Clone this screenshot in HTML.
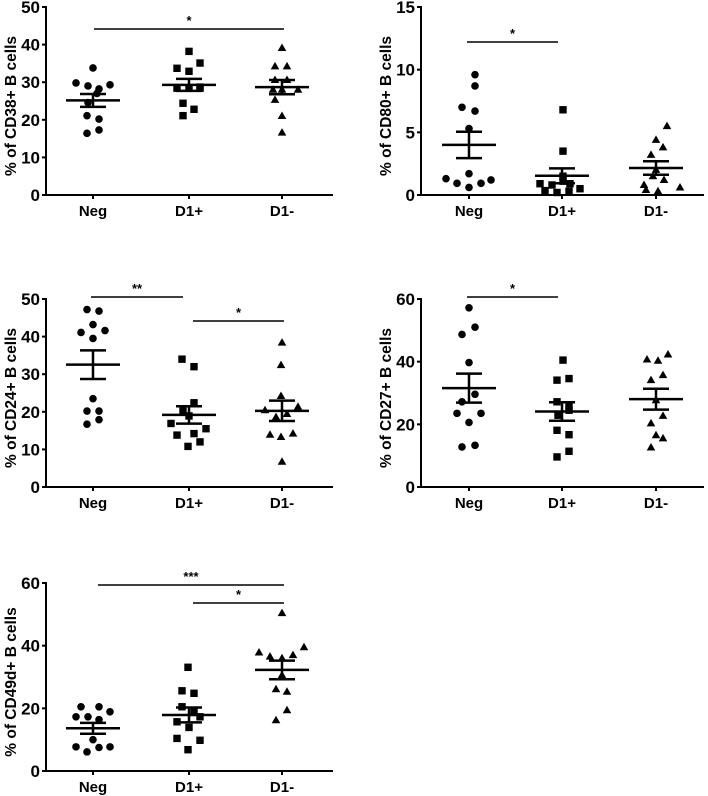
<!DOCTYPE html>
<html><head><meta charset="utf-8">
<style>
html,body{margin:0;padding:0;background:#fff;}
svg{display:block;font-family:"Liberation Sans",Arial,sans-serif;font-weight:bold;}
</style></head>
<body>
<svg id="chart" width="708" height="796" viewBox="0 0 708 796"></svg>
<script>
const categories = ["Neg","D1+","D1-"];
// CD38
const cd38Neg = [33.8,29.8,29,28.2,29.3,27,24.6,21.1,20.2,16.4,17.3];
const cd38D1p = [38.2,33.7,32.9,35.1,28.4,28.4,28.4,24.4,22.8,21.1,28.7];
const cd38D1m = [39.1,34.2,34.2,30.6,30.6,28,28,28,25.3,21,16.6];
// CD80
const cd80Neg = [8.7,9.6,7,6.7,5.3,1.7,1.3,1.2,0.93,0.93,0.6];
const cd80D1p = [6.8,3.5,1.5,0.9,0.8,0.9,0.5,0.35,0.2,0.3,1.1];
const cd80D1m = [5.5,4.4,3.8,3.2,2,0.8,1.2,1.5,0.6,0.4,0.3];
// CD24
const cd24Neg = [47.2,46.8,43.2,41.1,41.6,39.5,23.5,20.2,20.2,16.7,17.9];
const cd24D1p = [34,32,22.4,20.4,16.9,13.8,14.2,15.5,10.8,12,18.9];
const cd24D1m = [38.4,32.4,24.2,20.4,18.6,19.4,21.3,13.9,13.3,14.2,6.7];
// CD27
const cd27Neg = [57.2,48.7,51,39.7,29.6,27.2,23.5,23.5,20.6,12.8,13.3];
const cd27D1p = [40.5,34.1,34.6,27.2,25.6,22.9,24.5,18.1,16.7,11.4,9.6];
const cd27D1m = [40.7,40.3,42.3,34.1,35.7,27.7,22.7,20.3,16.5,15.5,12.6];
// CD49d
const cd49Neg = [20.5,20.5,18.9,17.3,17.3,16.4,10,7.7,7.5,7.7,6.1];
const cd49D1p = [33.1,25.6,24.8,20.5,17.3,15.7,13.9,10.4,9.8,6.8,18.9];
const cd49D1m = [50.4,37.8,36.5,36,37,39.5,30.6,26.1,25.3,19.4,16.2];

// horizontal jitter (px) for point placement
const jitA = [0,-17,-5,6,17,4,-5,-6,6,-6,6];
const jitB = [0,-12,0,11,-12,0,11,-6,5,-6,11];
const jitC = [0,-7,5,-7,5,-9,0,16,-7,0,0];

const NS="http://www.w3.org/2000/svg";
const svg=document.getElementById('chart');
function mk(tag,attrs,parent){const e=document.createElementNS(NS,tag);for(const k in attrs)e.setAttribute(k,attrs[k]);(parent||svg).appendChild(e);return e;}

const panels=[
 {name:"cd38",label:"% of CD38+ B cells",ax:46,x1:333,top:7,bot:195,max:50,step:10,cx:[93,189,282],data:[cd38Neg,cd38D1p,cd38D1m],jit:[jitA,jitB,jitC],sig:[{a:0,b:2,y:29,t:"*"}]},
 {name:"cd80",label:"% of CD80+ B cells",ax:421,x1:704,top:7,bot:195,max:15,step:5,cx:[469,562,656],data:[cd80Neg,cd80D1p,cd80D1m],jit:[[6,6,-7,6,0,0,-23,22,-12,12,0],[1,1,1,-22,-10,8,18,-17,-5,7,1],[11,0,7,-5,0,-12,8,-3,24,-10,2]],sig:[{a:0,b:1,y:42,t:"*",x0:467,x1:558}]},
 {name:"cd24",label:"% of CD24+ B cells",ax:46,x1:333,top:299,bot:487,max:50,step:10,cx:[93,189,282],data:[cd24Neg,cd24D1p,cd24D1m],jit:[[-6,6,0,-12,12,0,0,-6,6,-6,6],[-7,5,5,-6,-18,-12,5,17,-1,11,0],[0,-1,-1,-17,-6,5,16,-12,-1,11,0]],sig:[{y:297,t:"**",x0:91,x1:183},{y:321,t:"*",x0:193,x1:284}]},
 {name:"cd27",label:"% of CD27+ B cells",ax:421,x1:704,top:299,bot:487,max:60,step:20,cx:[469,562,656],data:[cd27Neg,cd27D1p,cd27D1m],jit:[[0,-7,6,0,6,-7,-12,12,0,-7,6],[1,-5,7,-5,7,-4,7,-5,7,7,-5],[-9,2,12,-5,7,0,7,-5,0,7,-5]],sig:[{y:297,t:"*",x0:467,x1:558}]},
 {name:"cd49d",label:"% of CD49d+ B cells",ax:46,x1:333,top:583,bot:771,max:60,step:20,cx:[93,189,282],data:[cd49Neg,cd49D1p,cd49D1m],jit:[[-12,6,17,-17,-5,6,0,-17,6,17,-6],[-1,-7,5,-7,11,-12,0,-12,11,-1,5],[0,-23,-12,0,11,22,0,-6,5,5,-6]],sig:[{y:585,t:"***",x0:98,x1:284},{y:603,t:"*",x0:193,x1:284}]}
];

panels.forEach(p=>{
 const g=mk('g',{});
 
 
 const yS=v=>p.bot-(v/p.max)*(p.bot-p.top);
 const ya=mk('line',{x1:p.ax,y1:p.top-1,x2:p.ax,y2:p.bot+1,stroke:'#000','stroke-width':2},g);
 
 const xa=mk('line',{x1:p.ax-1,y1:p.bot,x2:p.x1,y2:p.bot,stroke:'#000','stroke-width':2},g);
 
 for(let v=0;v<=p.max+1e-9;v+=p.step){
  const y=yS(v);
  mk('line',{x1:p.ax-4,y1:y,x2:p.ax,y2:y,stroke:'#000','stroke-width':2},g);
  const t=mk('text',{x:p.ax-6,y:y+6,'text-anchor':'end','font-size':17},g);t.textContent=v;
  
 }
 const yl=mk('text',{x:0,y:0,'text-anchor':'middle','font-size':15.5,transform:`translate(${p.ax-30},${(p.top+p.bot)/2+5}) rotate(-90)`},g);
 yl.textContent=p.label;
 
 categories.forEach((c,i)=>{
  const cx=p.cx[i];
  mk('line',{x1:cx,y1:p.bot,x2:cx,y2:p.bot+4,stroke:'#000','stroke-width':2},g);
  const t=mk('text',{x:cx,y:p.bot+21,'text-anchor':'middle','font-size':15},g);t.textContent=c;
  
  const vals=p.data[i];
  vals.forEach((v,k)=>{
   const x=cx+(p.jit[i][k]||0), y=yS(v);
   let m;
   if(i===0) m=mk('circle',{cx:x,cy:y,r:3.8,fill:'#000'},g);
   else if(i===1) m=mk('rect',{x:x-3.7,y:y-3.7,width:7.4,height:7.4,fill:'#000'},g);
   else m=mk('polygon',{points:`${x},${y-4.5} ${x-4.3},${y+3} ${x+4.3},${y+3}`,fill:'#000'},g);
   
  });
  const n=vals.length, mean=vals.reduce((a,b)=>a+b,0)/n;
  const sd=Math.sqrt(vals.reduce((a,b)=>a+(b-mean)**2,0)/(n-1)), sem=sd/Math.sqrt(n);
  const ml=mk('line',{x1:cx-27,y1:yS(mean),x2:cx+27,y2:yS(mean),stroke:'#000','stroke-width':2.5},g);
  
  mk('line',{x1:cx,y1:yS(mean+sem),x2:cx,y2:yS(mean-sem),stroke:'#000','stroke-width':2.5},g);
  [mean+sem,mean-sem].forEach(v=>{
   const e=mk('line',{x1:cx-13,y1:yS(v),x2:cx+13,y2:yS(v),stroke:'#000','stroke-width':2.5},g);
   
  });
 });
 p.sig.forEach(s=>{
  const x0=s.x0!==undefined?s.x0:p.cx[s.a]+1, x1=s.x1!==undefined?s.x1:p.cx[s.b]+2;
  const l=mk('line',{x1:x0,y1:s.y,x2:x1,y2:s.y,stroke:'#000','stroke-width':1.5},g);
  
  const t=mk('text',{x:(x0+x1)/2,y:s.y-4,'text-anchor':'middle','font-size':13},g);t.textContent=s.t;
  
 });
});
</script>
</body></html>
